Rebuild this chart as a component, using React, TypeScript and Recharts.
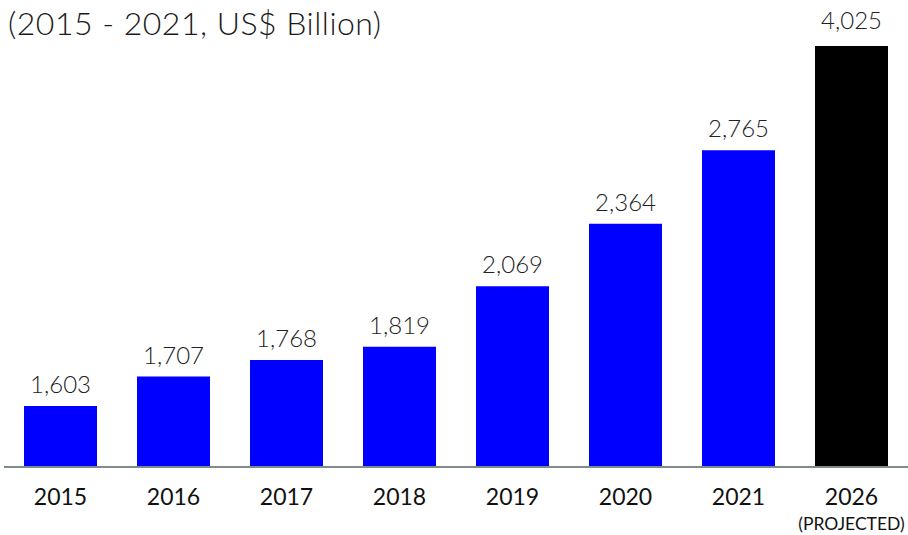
import { BarChart, Bar, XAxis, YAxis, Cell, LabelList } from 'recharts'

const years = ['2015', '2016', '2017', '2018', '2019', '2020', '2021', '2026']
const revenue = [1603, 1707, 1768, 1819, 2069, 2364, 2765, 4025]
const notes = ['', '', '', '', '', '', '', '(PROJECTED)']
const projected = [false, false, false, false, false, false, false, true]

const data = years.map((year, i) => ({
    year,
    value: revenue[i],
    note: notes[i],
    projected: projected[i],
}))

const FONT = 'Lato, "Open Sans", sans-serif'
const PLOT_TOP = 46

function YearTick(props: any) {
    const { x, y, index } = props
    const row = data[index]
    return (
        <g>
            <text x={x} y={y + 38} textAnchor="middle" fontSize={23} fontWeight={400} fill="#111" fontFamily={FONT}>
                {row.year}
            </text>
            {row.note && (
                <text x={x} y={y + 63} textAnchor="middle" fontSize={17.5} fontWeight={400} fill="#111" fontFamily={FONT}>
                    {row.note}
                </text>
            )}
        </g>
    )
}

// the projected bar is cut at the top of the plot, so its label sits on the cut edge
function ValueLabel(props: any) {
    const { x, y, width, value } = props
    const clipped = Number(y) < PLOT_TOP
    const top = clipped ? PLOT_TOP - 4 : Number(y)
    return (
        <text x={Number(x) + Number(width) / 2} y={top - 13} textAnchor="middle" fontSize={24} fontWeight={300} fill="#222" fontFamily={FONT}>
            {Number(value).toLocaleString('en-US')}
        </text>
    )
}

export default function App() {
    return (
        <div style={{ position: 'absolute', left: 0, top: 0, width: 908, height: 535, background: '#fff' }}>
            <div
                style={{
                    position: 'absolute',
                    left: 8,
                    top: 7,
                    fontFamily: FONT,
                    fontSize: 32,
                    fontWeight: 300,
                    lineHeight: '32px',
                    letterSpacing: 0.5,
                    color: '#1a1a1a',
                    whiteSpace: 'nowrap',
                }}
            >
                (2015 - 2021, US$ Billion)
            </div>
            <BarChart
                width={908}
                height={535}
                data={data}
                margin={{ top: PLOT_TOP, right: 0, left: 4, bottom: 0 }}
                barSize={73}
                style={{ overflow: 'visible' }}
            >
                <XAxis
                    dataKey="year"
                    height={68}
                    interval={0}
                    tickLine={false}
                    tickSize={0}
                    tickMargin={0}
                    axisLine={{ stroke: '#7d8b8b', strokeWidth: 2 }}
                    tick={<YearTick />}
                />
                <YAxis hide scale="log" type="number" domain={[1408, 3452]} allowDataOverflow />
                <Bar dataKey="value" isAnimationActive={false}>
                    {data.map((d) => (
                        <Cell key={d.year} fill={d.projected ? '#000000' : '#0000ff'} />
                    ))}
                    <LabelList dataKey="value" content={<ValueLabel />} />
                </Bar>
            </BarChart>
        </div>
    )
}
